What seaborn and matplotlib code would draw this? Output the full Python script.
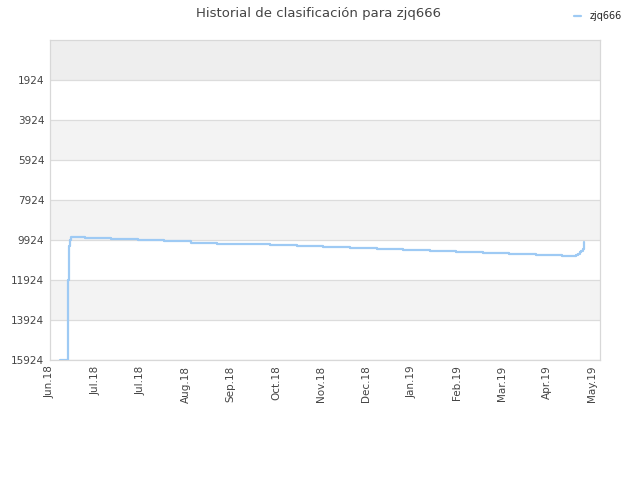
import matplotlib
matplotlib.use("Agg")
import matplotlib.pyplot as plt
import seaborn as sns
import pandas as pd
import numpy as np

# rank history (days after first tick, rank)
days = [6.1, 10.8, 11.5, 12.1, 12.7, 21.4, 37.4, 53.9, 69.9, 86.4, 102.3, 118.9,
        134.8, 151.4, 167.3, 183.8, 200.4, 216.3, 232.9, 248.8, 265.3, 281.3,
        297.8, 313.8, 322.6, 323.6, 324.6, 325.6, 326.6, 327.2]
ranks = [15924, 11914, 10249, 9949, 9784, 9849, 9899, 9949, 9999, 10064, 10114,
         10149, 10184, 10234, 10284, 10349, 10399, 10449, 10499, 10549, 10584,
         10634, 10684, 10734, 10670, 10600, 10530, 10460, 10390, 10049]

tick_labels = ["Jun.18", "Jul.18", "Jul.18", "Aug.18", "Sep.18", "Oct.18", "Nov.18",
               "Dec.18", "Jan.19", "Feb.19", "Mar.19", "Apr.19", "May.19"]
tick_step = 27.7
y_ticks = [1924, 3924, 5924, 7924, 9924, 11924, 13924, 15924]

df = pd.DataFrame({"day": days, "rank": ranks})

sns.set_style("white")
plt.rcParams['font.family'] = ['DejaVu Sans']

fig = plt.figure(figsize=(6.4, 4.8), dpi=100)
ax = fig.add_axes([0.078, 0.25, 0.8595, 0.6667])

# alternating bands
band_edges = [-76] + y_ticks
for i in range(len(band_edges) - 1):
    if i % 2 == 0:
        col = '#eeeeee' if i == 0 else '#f3f3f3'
        ax.axhspan(band_edges[i], band_edges[i + 1], color=col, zorder=0, lw=0)
for yt in y_ticks:
    ax.axhline(yt, color='#dcdcdc', lw=0.9, zorder=1)

sns.lineplot(data=df, x="day", y="rank", ax=ax, estimator=None, sort=False,
             drawstyle='steps-post', color='#9ecaf4', lw=1.6, label='zjq666', zorder=3)

ax.set_ylim(15924, -76)
ax.set_xlim(0, 337)
ax.set_yticks(y_ticks)
ax.set_yticklabels([str(v) for v in y_ticks], fontsize=7.5, color='#444444')
ax.set_xticks(np.arange(len(tick_labels)) * tick_step)
ax.set_xticklabels(tick_labels, rotation=90, fontsize=7.5, color='#444444')
ax.tick_params(axis='both', length=0, pad=4)
ax.set_xlabel("")
ax.set_ylabel("")
for sp in ax.spines.values():
    sp.set_color('#d8d8d8')
    sp.set_linewidth(0.9)

ax.legend_.remove()
fig.legend(loc='upper right', bbox_to_anchor=(0.986, 0.995), frameon=False,
           fontsize=7, handlelength=0.8, handletextpad=0.9)

fig.text(0.497, 0.972, "Historial de clasificación para zjq666", ha='center', va='center',
         fontsize=9.5, color='#444444')

fig.savefig("out.png", dpi=100)
